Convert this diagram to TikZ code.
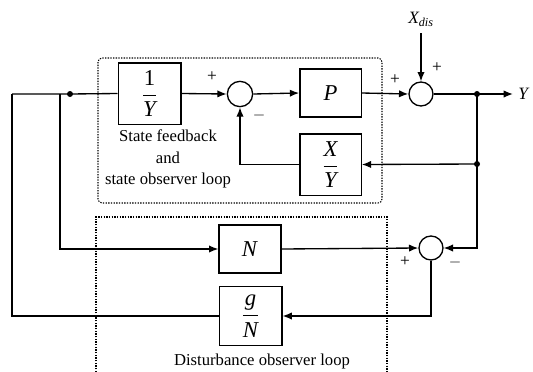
\documentclass[tikz,border=0pt]{standalone}
\usepackage{amsmath}
\usepackage{fontspec}
\setmainfont{Liberation Serif}
\usetikzlibrary{arrows.meta}
\begin{document}
\begin{tikzpicture}[x=0.75pt,y=-0.75pt,
  line width=1pt,
  blk/.style={draw,rectangle,inner sep=0pt,font=\fontsize{17}{18}\selectfont},
  sumj/.style={draw,circle,inner sep=0pt,minimum size=19pt},
  arr/.style={-{Latex[length=7pt,width=5.5pt]}},
  dotbox/.style={line width=0.8pt,dash pattern=on 1pt off 1pt},
  jdot/.style={circle,fill,inner sep=0pt,minimum size=4.5pt},
  sgn/.style={font=\fontsize{13}{13}\selectfont},
  lbl/.style={font=\fontsize{12.5}{13}\selectfont}]
\useasboundingbox (0,0) rectangle (533,372);
% dotted boxes
\draw[dotbox,rounded corners=3pt] (98,58) rectangle (382,203);
\draw[dotbox] (96,372) -- (96,217) -- (387,217) -- (387,372);
% blocks
\node[blk,minimum width=47pt,minimum height=46pt] (b1) at (149.5,93.5) {$\dfrac{\textrm{1}}{\textit{Y}}$};
\node[blk,minimum width=46pt,minimum height=36pt] (P) at (330.5,93) {\textit{P}};
\node[blk,minimum width=46pt,minimum height=46pt] (XY) at (330.5,164.5) {$\dfrac{\textit{X}}{\textit{Y}}$};
\node[blk,minimum width=46.5pt,minimum height=36pt] (N) at (250,249) {\textit{N}};
\node[blk,minimum width=47pt,minimum height=44pt] (gN) at (250.5,316) {$\dfrac{\textit{g}}{\textit{N}}$};
% summing junctions
\node[sumj] (s1) at (240,94) {};
\node[sumj,minimum size=18pt] (s2) at (421,94) {};
\node[sumj,minimum size=18pt] (s3) at (431,248) {};
% junction points
\node[jdot] (d0) at (70,94) {};
\node[jdot] (br) at (477,94) {};
\node[jdot] (fb) at (477,164) {};
\coordinate (c0) at (12,94);
\coordinate (c1) at (60,94);
\coordinate (out) at (513,94);
\coordinate (xin) at (421,33);
% connectors
\draw (c0) -- (d0.center) -- (b1.west);
\draw[arr] (b1.east) -- (s1.west);
\draw[arr] (s1.east) -- (P.west);
\draw[arr] (P.east) -- (s2.west);
\draw (s2.east) -- (br.center);
\draw[arr] (br.center) -- (out);
\draw[arr] (xin) -- (s2.north);
\draw (br.center) -- (fb.center);
\draw[arr] (fb.center) -- (XY.east);
\draw[arr] (XY.west) -| (s1.south);
\draw[arr] (fb.center) |- (s3.east);
\draw[arr] (N.east) -- (s3.west);
\draw[arr] (s3.south) |- (gN.east);
\draw (gN.west) -| (c0);
\draw[arr] (c1) |- (N.west);
% signs
\node[sgn] (p1) at (212,77) {+};
\node[sgn] (m1) at (259,115) {$-$};
\node[sgn] (p2) at (395,80) {+};
\node[sgn] (p3) at (437,68) {+};
\node[sgn] (p4) at (405,262) {+};
\node[sgn] (m3) at (455,262) {$-$};
% labels
\node[font=\fontsize{13}{13}\selectfont] (xd) at (421,19) {\textit{X\textsubscript{dis}}};
\node[font=\fontsize{13}{13}\selectfont] (yl) at (524,94) {\textit{Y}};
\node[lbl,align=center] (t1) at (168,159) {State feedback\\[3pt] and\\[3pt] state observer loop};
\node[lbl] (t2) at (262,361) {Disturbance observer loop};
\end{tikzpicture}
\end{document}
